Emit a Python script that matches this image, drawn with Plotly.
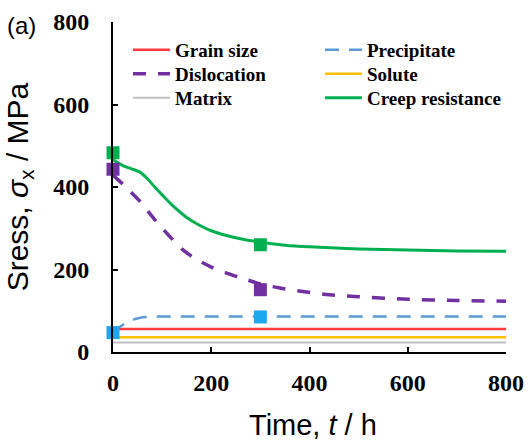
import plotly.graph_objects as go

# ---------------- data ----------------
t_flat = [0, 800]
grain_size = [56, 56]
solute = [36, 36]
matrix = [23, 23]

t_precip = [0, 15, 30, 45, 60, 80, 800]
precipitate = [47, 62, 73, 80, 84, 86, 86]

t_disl = [0, 10, 30, 55, 80, 100, 115, 140, 160, 180, 200, 230, 260, 300, 340, 390, 440, 500, 600, 700, 800]
dislocation = [428, 418, 395, 365, 328, 300, 281, 250, 232, 218, 206, 192, 180, 165, 155, 146, 139, 134, 128, 125, 123]

t_creep = [0, 20, 40, 55, 70, 85, 100, 125, 150, 175, 200, 250, 300, 350, 400, 500, 600, 700, 800]
creep = [466, 452, 443, 436, 420, 400, 381, 351, 326, 308, 294, 277, 266, 259, 255, 250, 247, 245, 244]

t_marks = [0, 300]
creep_marks = [483, 260]
disl_marks = [443, 151]
precip_marks = [47, 85]

x_ticks = [0, 200, 400, 600, 800]
y_ticks = [0, 200, 400, 600, 800]

x_title = "Time, <i>t</i> / h"
y_title = "Sress, <i>σ</i><sub>x</sub> / MPa"

# ---------------- colours ----------------
RED = "#FF3B3B"
PURPLE = "#7030A0"
GRAY = "#BFBFBF"
BLUE = "#5B9BD5"
YELLOW = "#FFC000"
GREEN = "#00B050"
CYAN = "#1EA7EC"

fig = go.Figure()

def line(x, y, name, color, width, dash="solid", legend="legend", shape="linear"):
    fig.add_trace(go.Scatter(x=x, y=y, name=name, mode="lines",
                             line=dict(color=color, width=width, dash=dash, shape=shape, smoothing=0.8),
                             legend=legend))

line(t_flat, matrix, "Matrix", GRAY, 2, legend="legend3")
line(t_flat, solute, "Solute", YELLOW, 2.5, legend="legend5")
line(t_flat, grain_size, "Grain size", RED, 2.5, legend="legend")
line(t_precip, precipitate, "Precipitate", BLUE, 2.5, dash="14px,10px", legend="legend4")
line(t_disl, dislocation, "Dislocation", PURPLE, 3.5, dash="13px,12px", legend="legend2", shape="spline")
line(t_creep, creep, "Creep resistance", GREEN, 3, legend="legend6", shape="spline")

for ys, c in [(creep_marks, GREEN), (disl_marks, PURPLE), (precip_marks, CYAN)]:
    fig.add_trace(go.Scatter(x=t_marks, y=ys, mode="markers", showlegend=False,
                             marker=dict(symbol="square", size=13, color=c),
                             cliponaxis=False))

# legend placement (one legend per entry, arranged in 2 columns x 3 rows)
L = 113.0
T = 22.0
W = 393.0
H = 330.0
def px(xp):
    return (xp - L) / W
def py(yp):
    return (T + H - yp) / H

leg_font = dict(family="Liberation Serif", size=19, color="black", weight="bold")
col_x = [128, 320]
row_y = [31, 55, 79]
legend_ids = [["legend", "legend2", "legend3"], ["legend4", "legend5", "legend6"]]
legend_layout = {}
for ci, col in enumerate(legend_ids):
    for ri, lid in enumerate(col):
        legend_layout[lid] = dict(x=px(col_x[ci]), y=py(row_y[ri]), xanchor="left", yanchor="top",
                                  bgcolor="rgba(0,0,0,0)", font=leg_font, itemwidth=37,
                                  borderwidth=0)

fig.update_layout(
    width=528, height=440,
    margin=dict(l=113, r=22, t=22, b=88, autoexpand=False),
    paper_bgcolor="white", plot_bgcolor="white",
    showlegend=True,
    **legend_layout,
)

tick_font = dict(family="Liberation Serif", size=24, color="black", weight="bold")
fig.update_xaxes(range=[0, 800], tickvals=x_ticks, showgrid=False, zeroline=False,
                 showline=True, linecolor="black", linewidth=2,
                 ticks="inside", ticklen=5, tickwidth=2, tickcolor="black",
                 tickfont=tick_font, ticklabelstandoff=8)
fig.update_yaxes(range=[0, 800], tickvals=y_ticks, showgrid=False, zeroline=False,
                 showline=True, linecolor="black", linewidth=2,
                 ticks="inside", ticklen=5, tickwidth=2, tickcolor="black",
                 tickfont=tick_font, ticklabelstandoff=17,
                 title=dict(text=y_title, standoff=16,
                            font=dict(family="Liberation Sans", size=30, color="black")))

# x-axis title placed below the tick labels
fig.add_annotation(text=x_title, xref="paper", yref="paper", x=px(313), y=py(443),
                   xanchor="center", yanchor="bottom", showarrow=False,
                   font=dict(family="Liberation Sans", size=29, color="black"))

fig.add_annotation(text="(a)", xref="paper", yref="paper", x=px(5), y=py(10),
                   xanchor="left", yanchor="top", showarrow=False,
                   font=dict(family="Liberation Sans", size=24, color="black"))

fig.write_html("out.html", config={"displayModeBar": False},
               post_script="document.body.style.margin='0';document.body.style.overflow='hidden';")
